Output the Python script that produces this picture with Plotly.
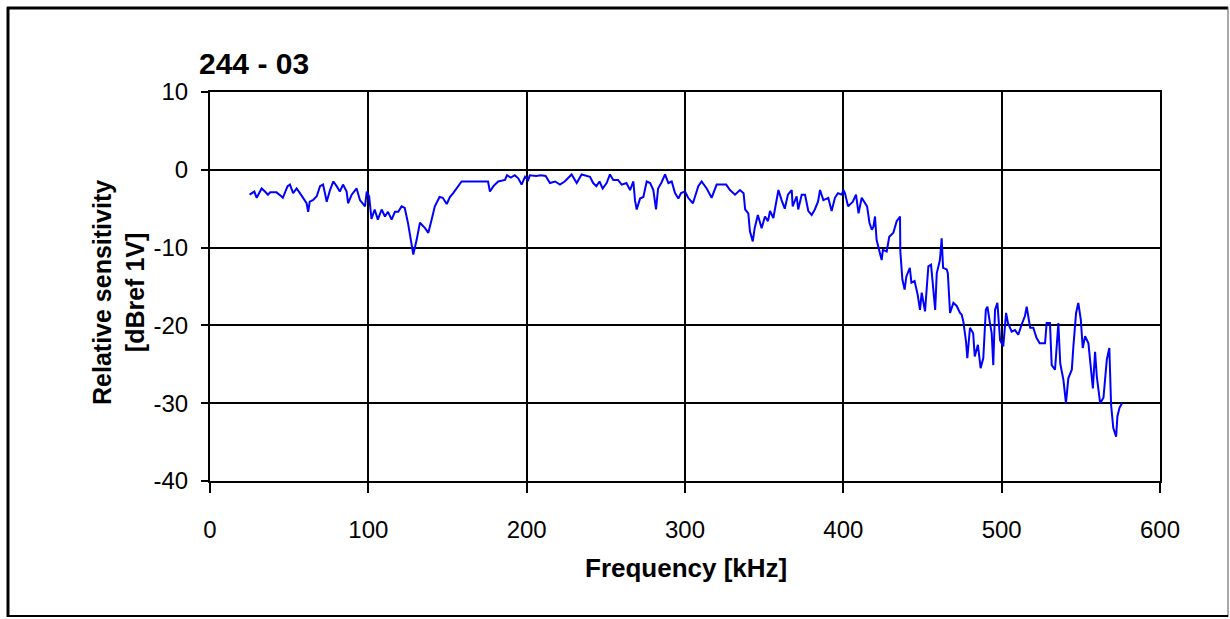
import plotly.graph_objects as go

freq_khz = [25, 28, 29.5, 32.6, 34.7, 36.6, 38, 42, 45, 46, 49, 50.5, 52.5, 54.7, 56.8, 58.9, 61, 62, 63, 65,
            67.4, 69.5, 71.4, 72.6, 73.7, 75.8, 77.9, 80, 82, 84, 86.3, 87.2, 89.5, 92.6, 94.7, 97.9, 99, 100.5,
            102, 104, 106, 108.4, 110.5, 112.4, 114.7, 116.8, 118.9, 121, 123, 125, 126.3, 128.4, 130.5, 132.6,
            135.8, 137.9, 140, 142, 145, 147, 149.5, 151.5, 153.6, 155.7, 158.9, 160, 166, 172, 175.6, 176.8,
            179, 182, 186.3, 187.6, 190, 192.5, 194.7, 196.8, 199, 201, 202, 206, 209, 212, 214.7, 218, 221, 224,
            228.4, 231.6, 234.7, 240, 242, 244, 246, 248, 250.5, 252.6, 254.7, 257.7, 260, 263, 265.3, 267.4,
            268.4, 269.5, 271.6, 273.7, 275.8, 278, 280, 281.7, 283, 285, 287.4, 289.5, 291.6, 293.7, 295.8,
            297.5, 300, 302, 305, 308.4, 310.5, 313.7, 316.8, 320, 326, 328.4, 331.6, 334.7, 337, 338, 340, 341,
            342.8, 344, 346, 348.4, 350.5, 352.4, 353.7, 355.8, 358, 359, 361, 363, 365, 367.4, 368, 370.5, 371.5,
            373.7, 375.8, 377.9, 380, 382, 384, 385.3, 387.4, 390.5, 392.6, 394.7, 396.6, 399, 400, 401, 403, 406,
            408, 409.6, 411.6, 415, 416.5, 418, 419, 420, 421, 423, 424.2, 425, 427.4, 429, 431.6, 433.7, 435.8,
            436, 437.3, 438.7, 439.8, 442, 443, 445, 447, 448.4, 449.5, 451.6, 453.7, 455.4, 456.6, 458, 459, 461,
            462.1, 463, 465.3, 466, 467.4, 469.5, 471.6, 473.7, 474.7, 475.8, 477.5, 478.3, 480, 482, 483, 485,
            486.7, 488.4, 490, 491, 492.6, 493.7, 494.7, 495.8, 497.3, 499, 501, 502.8, 504, 506.3, 508.4, 510.5,
            512.6, 514.7, 515.8, 518, 520, 522, 524, 527.4, 528.4, 530.5, 531.6, 533.7, 535.8, 537, 539, 540.6,
            542.1, 544.3, 545.3, 547, 548.4, 550, 551.2, 552.7, 554.8, 556.3, 557.6, 559, 560.1, 562.2, 564.3,
            566.4, 568, 569.1, 570.5, 572.3, 573.1, 574.4, 576]

sensitivity_db = [-3.2, -2.8, -3.6, -2.4, -2.8, -3.2, -2.9, -2.9, -3.4, -3.6, -2.1, -1.9, -3.0, -2.4, -3.0, -3.6,
                  -4.3, -5.4, -4.1, -3.9, -3.4, -2.1, -1.9, -3.0, -4.1, -2.6, -1.5, -2.1, -2.8, -1.9, -2.8, -4.3,
                  -3.2, -2.4, -3.9, -4.7, -2.8, -3.4, -6.3, -5.1, -6.4, -5.1, -6.0, -5.4, -6.4, -5.4, -5.4, -4.7,
                  -4.9, -6.8, -8.6, -10.9, -9.0, -6.8, -7.5, -8.1, -6.4, -4.7, -3.5, -3.6, -4.4, -3.5, -3.0, -2.4,
                  -1.5, -1.5, -1.5, -1.5, -1.5, -2.8, -2.1, -1.5, -1.3, -0.7, -1.0, -0.7, -1.1, -1.9, -0.9, -1.3,
                  -0.7, -0.8, -0.7, -0.8, -1.7, -1.5, -1.9, -1.5, -0.6, -1.7, -0.6, -0.9, -1.7, -2.1, -1.5, -2.4,
                  -1.7, -0.6, -1.3, -1.3, -1.9, -1.7, -2.6, -1.5, -3.9, -5.1, -3.7, -3.5, -1.5, -1.7, -2.6, -5.1,
                  -2.4, -1.7, -0.6, -1.7, -1.5, -3.0, -3.7, -3.0, -2.8, -3.6, -4.3, -2.1, -1.5, -2.4, -3.6, -1.9,
                  -1.9, -2.6, -3.2, -2.6, -3.0, -5.1, -5.6, -7.9, -9.2, -7.5, -5.8, -7.5, -6.0, -6.6, -5.3, -6.2,
                  -3.6, -2.6, -3.9, -5.0, -3.2, -2.6, -4.7, -3.4, -5.1, -3.2, -3.2, -5.3, -5.8, -5.1, -4.1, -2.6,
                  -3.9, -3.6, -5.3, -3.6, -3.0, -3.2, -2.6, -3.0, -4.7, -4.1, -3.2, -5.6, -3.6, -4.7, -6.8, -7.7,
                  -7.3, -6.0, -9.0, -10.5, -11.6, -10.3, -10.5, -8.6, -8.1, -6.6, -6.0, -10.5, -14.1, -15.4, -13.7,
                  -12.6, -14.5, -14.3, -16.1, -18.0, -15.8, -18.2, -12.4, -12.2, -15.4, -18.0, -13.3, -11.6, -8.8,
                  -12.6, -12.8, -13.3, -18.4, -17.1, -17.5, -18.4, -18.6, -19.5, -22.1, -24.2, -20.3, -21.0, -24.0,
                  -22.5, -25.5, -24.2, -18.0, -17.6, -19.7, -21.0, -25.1, -18.0, -17.1, -21.9, -22.7, -18.4, -19.7,
                  -20.8, -20.6, -21.2, -19.9, -18.8, -17.6, -20.3, -20.3, -21.6, -22.3, -22.3, -19.7, -19.7, -25.1,
                  -25.7, -19.7, -24.9, -27.0, -30.0, -26.8, -25.7, -22.7, -18.4, -17.1, -19.3, -22.9, -21.4, -22.3,
                  -25.7, -28.1, -23.4, -26.6, -30.0, -29.3, -24.4, -22.9, -30.2, -33.2, -34.3, -31.7, -30.6, -30.0]

x_ticks = [0, 100, 200, 300, 400, 500, 600]
x_tick_labels = ["0", "100", "200", "300", "400", "500", "600"]
y_ticks = [10, 0, -10, -20, -30, -40]
y_tick_labels = ["10", "0", "-10", "-20", "-30", "-40"]

chart_title = "244 - 03"
x_title = "Frequency [kHz]"
y_title = "Relative sensitivity<br>[dBref 1V]"

W, H = 1230, 619
L, R, T, B = 210, 1160, 92, 481


def px_x(p):
    return (p - L) / (R - L)


def px_y(p):
    return (B - p) / (B - T)


fam = "Liberation Sans, Arial, sans-serif"

fig = go.Figure()
fig.add_trace(go.Scatter(x=freq_khz, y=sensitivity_db, mode="lines",
                         line=dict(color="#0000FF", width=2), showlegend=False))

fig.update_layout(
    width=W, height=H,
    margin=dict(l=L, r=W - R, t=T, b=H - B),
    paper_bgcolor="white", plot_bgcolor="white",
    xaxis=dict(range=[0, 600], tickvals=x_ticks, ticktext=x_tick_labels, ticks="outside", ticklen=10,
               tickwidth=2, tickcolor="black", showgrid=True, gridcolor="black", gridwidth=2,
               showline=True, linecolor="black", linewidth=2, mirror=True, zeroline=False,
               tickfont=dict(family=fam, size=24, color="black"), ticklabelstandoff=16),
    yaxis=dict(range=[-40, 10], tickvals=y_ticks, ticktext=y_tick_labels, ticks="outside", ticklen=7,
               tickwidth=2, tickcolor="black", showgrid=True, gridcolor="black", gridwidth=2,
               showline=True, linecolor="black", linewidth=2, mirror=True, zeroline=False,
               tickfont=dict(family=fam, size=24, color="black"), ticklabelstandoff=8),
    annotations=[
        dict(text=chart_title, xref="paper", yref="paper", x=px_x(197), y=px_y(63),
             xanchor="left", yanchor="middle", showarrow=False,
             font=dict(family=fam, size=30, color="black", weight="bold")),
        dict(text=x_title, xref="paper", yref="paper", x=px_x(686), y=px_y(568),
             xanchor="center", yanchor="middle", showarrow=False,
             font=dict(family=fam, size=26, color="black", weight="bold")),
        dict(text=y_title, xref="paper", yref="paper", x=px_x(118), y=px_y(293),
             xanchor="center", yanchor="middle", showarrow=False, textangle=-90,
             font=dict(family=fam, size=25, color="black", weight="bold")),
    ],
    shapes=[
        dict(type="line", xref="paper", yref="paper", x0=px_x(8), x1=px_x(8), y0=px_y(7), y1=px_y(617),
             line=dict(color="black", width=3)),
        dict(type="line", xref="paper", yref="paper", x0=px_x(7), x1=px_x(1228), y0=px_y(8), y1=px_y(8),
             line=dict(color="black", width=3)),
        dict(type="line", xref="paper", yref="paper", x0=px_x(1228), x1=px_x(1228), y0=px_y(7), y1=px_y(617),
             line=dict(color="#555555", width=1)),
        dict(type="line", xref="paper", yref="paper", x0=px_x(7), x1=px_x(1228), y0=px_y(616), y1=px_y(616),
             line=dict(color="black", width=2)),
    ],
)

fig.write_html("out.html")
